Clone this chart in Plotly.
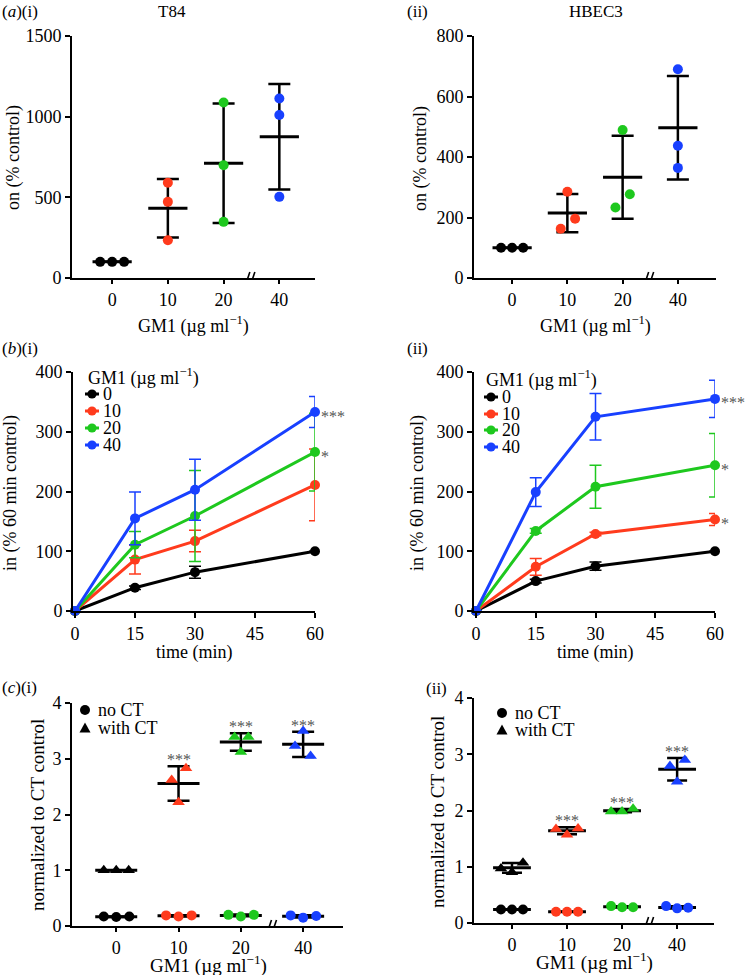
import numpy as np
import plotly.graph_objects as go

# ---------------- data ----------------
GM1_LABELS = ["0", "10", "20", "40"]
GROUP_COLORS = ["#000000", "#ff3b1d", "#1ec81e", "#1840ff"]

# (a)(i) T84 : individual replicates, % control
A1_0 = [100, 100, 100]
A1_10 = [590, 472, 234]
A1_20 = [1088, 699, 348]
A1_40 = [1113, 1010, 503]
# (a)(ii) HBEC3
A2_0 = [100, 100, 100]
A2_10 = [285, 196, 163]
A2_20 = [489, 277, 233]
A2_40 = [690, 437, 364]

# (b) time courses, % 60 min control (mean, SD)
TIME_MIN = [0, 15, 30, 60]
B1_0 = [0, 39, 65, 100]
B1_0_SD = [0, 3, 10, 0]
B1_10 = [0, 86, 117, 211]
B1_10_SD = [0, 24, 18, 60]
B1_20 = [0, 111, 159, 266]
B1_20_SD = [0, 22, 76, 65]
B1_40 = [0, 155, 203, 333]
B1_40_SD = [0, 44, 51, 26]
B1_STARS = ["", "", "*", "***"]

B2_0 = [0, 50, 75, 100]
B2_0_SD = [0, 3, 7, 0]
B2_10 = [0, 74, 129, 153]
B2_10_SD = [0, 14, 3, 10]
B2_20 = [0, 134, 208, 244]
B2_20_SD = [0, 4, 36, 53]
B2_40 = [0, 199, 325, 355]
B2_40_SD = [0, 24, 39, 31]
B2_STARS = ["", "*", "*", "***"]

# (c) normalized to CT control
C1_NOCT_0 = [0.17, 0.16, 0.17]
C1_NOCT_10 = [0.19, 0.17, 0.19]
C1_NOCT_20 = [0.20, 0.17, 0.20]
C1_NOCT_40 = [0.19, 0.15, 0.18]
C1_CT_0 = [1.0, 1.0, 1.0]
C1_CT_10 = [2.62, 2.83, 2.22]
C1_CT_20 = [3.39, 3.12, 3.39]
C1_CT_40 = [3.23, 3.50, 3.05]
C1_STARS = ["", "***", "***", "***"]

C2_NOCT_0 = [0.24, 0.24, 0.24]
C2_NOCT_10 = [0.20, 0.20, 0.20]
C2_NOCT_20 = [0.30, 0.28, 0.28]
C2_NOCT_40 = [0.30, 0.26, 0.27]
C2_CT_0 = [0.97, 0.90, 1.07]
C2_CT_10 = [1.67, 1.57, 1.68]
C2_CT_20 = [1.98, 1.98, 2.03]
C2_CT_40 = [2.79, 2.51, 2.90]
C2_STARS = ["", "***", "***", "***"]

LEGEND_B_TITLE = "GM1 (µg ml<sup>−1</sup>)"
LEGEND_C_NAMES = ["no CT", "with CT"]

# ---------------- layout helpers ----------------
W, H = 749, 975
FONT = "Liberation Serif, Times New Roman, serif"
STAR_COLOR = "#555555"


def fx(p):
    return p / W


def fy(p):
    return 1 - p / H


def dom_x(a, b):
    return [fx(a), fx(b)]


def dom_y(top, bottom):
    return [fy(bottom), fy(top)]


fig = go.Figure()

AX_COMMON = dict(showline=True, linecolor="black", linewidth=2, ticks="outside",
                 tickcolor="black", tickwidth=2, showgrid=False, zeroline=False,
                 automargin=False,
                 tickfont=dict(family=FONT, size=18, color="black"))


def cat_xaxis(domain, rng, anchor):
    d = dict(AX_COMMON)
    d.update(domain=domain, range=rng, tickmode="array", tickvals=[0, 1, 2, 3],
             ticktext=GM1_LABELS, ticklen=4, anchor=anchor)
    return d


def num_axis(domain, rng, dtick, anchor, ticklen=5):
    d = dict(AX_COMMON)
    d.update(domain=domain, range=rng, tickmode="linear", tick0=0, dtick=dtick,
             ticklen=ticklen, anchor=anchor)
    return d


# ---------------- scatter (dot + mean +/- SD) panels ----------------
def dot_panel(xa, ya, groups, offsets, symbol, msize, mean_size, cap):
    for gi, vals in enumerate(groups):
        vals = np.asarray(vals, dtype=float)
        m = vals.mean()
        sd = vals.std(ddof=1)
        fig.add_trace(go.Scatter(
            x=[gi], y=[m], mode="markers", xaxis=xa, yaxis=ya, showlegend=False,
            marker=dict(symbol="line-ew", size=mean_size, color="black",
                        line=dict(color="black", width=3)),
            error_y=dict(type="data", array=[sd], color="black", thickness=2.5,
                         width=cap), cliponaxis=False, hoverinfo="skip"))
        fig.add_trace(go.Scatter(
            x=[gi + o for o in offsets[gi]], y=vals, mode="markers", xaxis=xa,
            yaxis=ya, showlegend=False, cliponaxis=False,
            marker=dict(symbol=symbol, size=msize, color=GROUP_COLORS[gi],
                        line=dict(width=0))))


# (a)(i)
dot_panel("x", "y", [A1_0, A1_10, A1_20, A1_40],
          [[-0.215, 0, 0.215], [0, 0, 0], [0, 0, 0], [0, 0, 0]],
          "circle", 10, 28, 11)
# (a)(ii)
dot_panel("x2", "y2", [A2_0, A2_10, A2_20, A2_40],
          [[-0.2, 0, 0.2], [0, 0.14, -0.12], [0, 0.13, -0.13], [0, 0, 0]],
          "circle", 10, 28, 11)
# (c)(i)
dot_panel("x5", "y5", [C1_NOCT_0, C1_NOCT_10, C1_NOCT_20, C1_NOCT_40],
          [[-0.2, 0, 0.21]] * 4, "circle", 10, 30, 11)
dot_panel("x5", "y5", [C1_CT_0, C1_CT_10, C1_CT_20, C1_CT_40],
          [[-0.2, 0, 0.2], [-0.11, 0.12, 0], [-0.1, 0, 0.12], [-0.13, 0, 0.12]],
          "triangle-up", 11, 30, 11)
# (c)(ii)
dot_panel("x6", "y6", [C2_NOCT_0, C2_NOCT_10, C2_NOCT_20, C2_NOCT_40],
          [[-0.2, 0, 0.2]] * 4, "circle", 10, 27, 10)
dot_panel("x6", "y6", [C2_CT_0, C2_CT_10, C2_CT_20, C2_CT_40],
          [[-0.2, 0, 0.2], [-0.2, 0, 0.2], [-0.2, 0, 0.2], [-0.13, 0, 0.14]],
          "triangle-up", 11, 27, 10)

# asterisks for (c)
for xa, ya, groups, stars in (("x5", "y5", [C1_CT_0, C1_CT_10, C1_CT_20, C1_CT_40], C1_STARS),
                              ("x6", "y6", [C2_CT_0, C2_CT_10, C2_CT_20, C2_CT_40], C2_STARS)):
    for gi, vals in enumerate(groups):
        if stars[gi]:
            v = np.asarray(vals, dtype=float)
            fig.add_annotation(x=gi, y=v.mean() + v.std(ddof=1), xref=xa, yref=ya,
                               text=stars[gi], showarrow=False, yanchor="bottom",
                               yshift=-4, font=dict(family=FONT, size=16, color=STAR_COLOR))


# ---------------- (b) time course panels ----------------
def time_panel(xa, ya, series, sds, stars):
    for gi, (ys, sd) in enumerate(zip(series, sds)):
        fig.add_trace(go.Scatter(
            x=TIME_MIN, y=ys, mode="lines+markers", xaxis=xa, yaxis=ya,
            name=GM1_LABELS[gi], showlegend=False, cliponaxis=False,
            line=dict(color=GROUP_COLORS[gi], width=3),
            marker=dict(size=10, color=GROUP_COLORS[gi]),
            error_y=dict(type="data", array=sd, color=GROUP_COLORS[gi],
                         thickness=1.5, width=6)))
        if stars[gi]:
            fig.add_annotation(x=TIME_MIN[-1], y=ys[-1], xref=xa, yref=ya,
                               text=stars[gi], showarrow=False, xanchor="left",
                               xshift=4, yshift=-4,
                               font=dict(family=FONT, size=16, color=STAR_COLOR))


time_panel("x3", "y3", [B1_0, B1_10, B1_20, B1_40],
           [B1_0_SD, B1_10_SD, B1_20_SD, B1_40_SD], B1_STARS)
time_panel("x4", "y4", [B2_0, B2_10, B2_20, B2_40],
           [B2_0_SD, B2_10_SD, B2_20_SD, B2_40_SD], B2_STARS)

# ---------------- axes ----------------
fig.update_layout(
    xaxis=cat_xaxis(dom_x(72, 315), [-0.72, 3.64], "y"),
    yaxis=num_axis(dom_y(36, 278), [0, 1500], 500, "x"),
    xaxis2=cat_xaxis(dom_x(474, 716), [-0.69, 3.69], "y2"),
    yaxis2=num_axis(dom_y(36, 278), [0, 800], 200, "x2"),
    xaxis3=num_axis(dom_x(73, 315), [-0.5, 60], 15, "y3"),
    yaxis3=num_axis(dom_y(372, 611), [0, 400], 100, "x3"),
    xaxis4=num_axis(dom_x(474, 715), [-0.5, 60], 15, "y4"),
    yaxis4=num_axis(dom_y(372, 611), [0, 400], 100, "x4"),
    xaxis5=cat_xaxis(dom_x(72, 343), [-0.71, 3.64], "y5"),
    yaxis5=num_axis(dom_y(703, 926), [0, 4], 1, "x5"),
    xaxis6=cat_xaxis(dom_x(474, 714), [-0.69, 3.67], "y6"),
    yaxis6=num_axis(dom_y(698, 923), [0, 4], 1, "x6"),
)

# axis breaks (//) between 20 and 40
for xa, ya, bx in (("x", "y", 2.48), ("x2", "y2", 2.48), ("x5", "y5", 2.5), ("x6", "y6", 2.49)):
    fig.add_shape(type="rect", xref=xa, yref=ya, xsizemode="pixel", ysizemode="pixel",
                  xanchor=bx, yanchor=0, x0=-3.5, x1=3.5, y0=-3, y1=3,
                  fillcolor="white", line=dict(width=0), layer="above")
    for dx in (-2.5, 2.5):
        fig.add_shape(type="line", xref=xa, yref=ya, xsizemode="pixel", ysizemode="pixel",
                      xanchor=bx, yanchor=0, x0=dx - 2, x1=dx + 2, y0=-6, y1=6,
                      line=dict(color="black", width=1.6), layer="above")


# ---------------- text ----------------
def label(x, y, text, size=18, xanchor="center", angle=0, color="black"):
    fig.add_annotation(x=fx(x), y=fy(y), xref="paper", yref="paper", text=text,
                       showarrow=False, xanchor=xanchor, yanchor="middle",
                       textangle=angle, font=dict(family=FONT, size=size, color=color))


GM1_TITLE = "GM1 (µg ml<sup>−1</sup>)"
label(0, 11, "(<i>a</i>)(i)", xanchor="left", size=17)
label(172, 11, "T84", size=17)
label(417, 11, "(ii)", size=17)
label(596, 11, "HBEC3", size=17)
label(0, 348, "(<i>b</i>)(i)", xanchor="left", size=17)
label(417, 348, "(ii)", size=17)
label(0, 687, "(<i>c</i>)(i)", xanchor="left", size=17)
label(436, 688, "(ii)", size=17)

label(193, 325, GM1_TITLE)
label(595, 325, GM1_TITLE)
label(194, 652, "time (min)")
label(595, 652, "time (min)")
label(208, 964, GM1_TITLE, size=19)
label(594, 961, GM1_TITLE, size=19)

label(13, 158, "on (% control)", angle=-90)
label(420, 158, "on (% control)", angle=-90)
label(10, 493, "in (% 60 min control)", angle=-90)
label(417, 493, "in (% 60 min control)", angle=-90)
label(37, 815, "normalized to CT control", size=19, angle=-90)
label(437, 812, "normalized to CT control", size=19, angle=-90)


# ---------------- legends (drawn as keys in paper space) ----------------
def circle_key(cx, cy, r, color):
    fig.add_shape(type="circle", xref="paper", yref="paper",
                  x0=fx(cx - r), x1=fx(cx + r), y0=fy(cy + r), y1=fy(cy - r),
                  fillcolor=color, line=dict(width=0))


def triangle_key(cx, cy, s, color):
    p = "M {:.5f},{:.5f} L {:.5f},{:.5f} L {:.5f},{:.5f} Z".format(
        fx(cx - s), fy(cy + s * 0.8), fx(cx + s), fy(cy + s * 0.8), fx(cx), fy(cy - s))
    fig.add_shape(type="path", xref="paper", yref="paper", path=p,
                  fillcolor=color, line=dict(width=0))


def legend_b(title_x, title_y, mx, tx, ys):
    label(title_x, title_y, LEGEND_B_TITLE, xanchor="left")
    for gi, yy in enumerate(ys):
        fig.add_shape(type="line", xref="paper", yref="paper",
                      x0=fx(mx - 7), x1=fx(mx + 7), y0=fy(yy), y1=fy(yy),
                      line=dict(color=GROUP_COLORS[gi], width=3))
        circle_key(mx, yy, 4.6, GROUP_COLORS[gi])
        label(tx, yy, GM1_LABELS[gi], xanchor="left")


legend_b(86, 377, 92, 101, [394, 411, 428, 445])
legend_b(484, 379, 491, 500, [397, 414, 430, 447])


def legend_c(mx, tx, ys):
    circle_key(mx, ys[0], 5, "black")
    label(tx, ys[0], LEGEND_C_NAMES[0], xanchor="left")
    triangle_key(mx, ys[1], 5.5, "black")
    label(tx, ys[1], LEGEND_C_NAMES[1], xanchor="left")


legend_c(85, 96, [710, 728])
legend_c(502, 513, [713, 730])

fig.update_layout(width=W, height=H,
                  margin=dict(l=0, r=0, t=0, b=0, pad=0, autoexpand=False),
                  paper_bgcolor="white", plot_bgcolor="white", showlegend=False,
                  font=dict(family=FONT, color="black"))

fig.write_html("out.html",
               config={"displayModeBar": False, "staticPlot": True},
               post_script="document.body.style.margin='0px';"
                           "document.body.style.overflow='hidden';")
